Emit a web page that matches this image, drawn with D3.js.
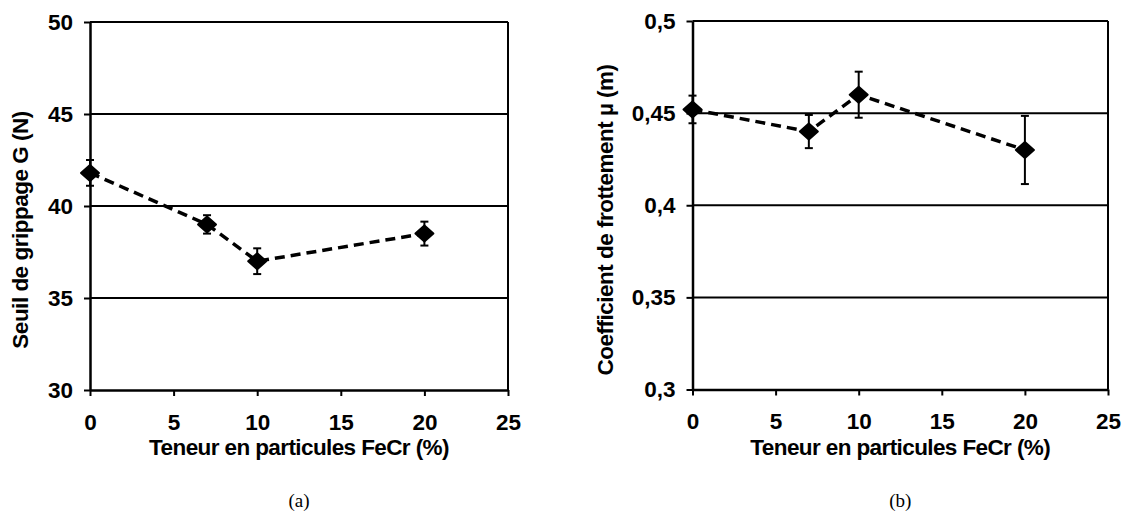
<!DOCTYPE html>
<html>
<head>
<meta charset="utf-8">
<script src="https://cdn.jsdelivr.net/npm/d3@7"></script>
<style>
  html, body { margin: 0; padding: 0; background: #fff; }
  svg { display: block; }
  text { font-family: "Liberation Sans", Arial, sans-serif; font-weight: bold; fill: #000; }
  .sub { font-family: "Liberation Serif", "DejaVu Serif", serif; font-weight: normal; }
</style>
</head>
<body>
<svg id="chart" width="1124" height="522"></svg>
<script>
// ---- data ----
const xValues = [0, 7, 10, 20];
const xTicks = [0, 5, 10, 15, 20, 25];

const seuilValues = [41.8, 39.0, 37.0, 38.5];
const seuilErrors = [0.7, 0.5, 0.7, 0.65];
const seuilTicks = [30, 35, 40, 45, 50];

const coeffValues = [0.452, 0.440, 0.460, 0.430];
const coeffErrors = [0.0075, 0.009, 0.0125, 0.0185];
const coeffTicks = [0.30, 0.35, 0.40, 0.45, 0.50];

const xTitle = "Teneur en particules FeCr (%)";
const seuilTitle = "Seuil de grippage G  (N)";
const coeffTitle = "Coefficient de frottement µ (m)";

const svg = d3.select("#chart");

function panel(opts) {
  const g = svg.append("g");
  const x = d3.scaleLinear().domain([0, 25]).range([opts.left, opts.right]);
  const y = d3.scaleLinear().domain(opts.yDomain).range([opts.bottom, opts.top]);

  // horizontal gridlines (incl. top)
  g.selectAll("line.grid").data(opts.yTicks.filter(d => d !== opts.yDomain[0]))
    .enter().append("line")
    .attr("x1", opts.left).attr("x2", opts.right)
    .attr("y1", d => y(d)).attr("y2", d => y(d))
    .attr("stroke", "#000").attr("stroke-width", 2);

  // right border
  g.append("line")
    .attr("x1", opts.right).attr("x2", opts.right)
    .attr("y1", opts.top).attr("y2", opts.bottom)
    .attr("stroke", "#000").attr("stroke-width", 2);

  // y axis
  const yAxis = d3.axisLeft(y).tickValues(opts.yTicks).tickFormat(opts.yFmt)
    .tickSizeInner(6).tickSizeOuter(0).tickPadding(11);
  const ya = g.append("g").attr("transform", `translate(${opts.left},0)`).call(yAxis);
  ya.select(".domain").attr("stroke", "#000").attr("stroke-width", 2.5);
  ya.selectAll(".tick line").attr("stroke", "#000").attr("stroke-width", 2);
  ya.selectAll(".tick text").attr("font-size", 22.5).attr("font-family", "Liberation Sans").attr("font-weight", "bold").attr("fill", "#000");

  // x axis
  const xAxis = d3.axisBottom(x).tickValues(xTicks).tickFormat(d3.format("d"))
    .tickSizeInner(6).tickSizeOuter(0).tickPadding(18);
  const xa = g.append("g").attr("transform", `translate(0,${opts.bottom})`).call(xAxis);
  xa.select(".domain").attr("stroke", "#000").attr("stroke-width", 2.5);
  xa.selectAll(".tick line").attr("stroke", "#000").attr("stroke-width", 2);
  xa.selectAll(".tick text").attr("font-size", 22.5).attr("font-family", "Liberation Sans").attr("font-weight", "bold").attr("fill", "#000");

  // dashed line
  const line = d3.line().x(d => x(d[0])).y(d => y(d[1]));
  g.append("path")
    .datum(xValues.map((v, i) => [v, opts.values[i]]))
    .attr("d", line)
    .attr("fill", "none").attr("stroke", "#000")
    .attr("stroke-width", 3.5).attr("stroke-dasharray", "10,6");

  // error bars
  const eb = g.selectAll("g.err").data(xValues.map((v, i) => ({x: v, y: opts.values[i], e: opts.errors[i]})))
    .enter().append("g");
  eb.append("line")
    .attr("x1", d => x(d.x)).attr("x2", d => x(d.x))
    .attr("y1", d => y(d.y - d.e)).attr("y2", d => y(d.y + d.e))
    .attr("stroke", "#000").attr("stroke-width", 2);
  [-1, 1].forEach(s => {
    eb.append("line")
      .attr("x1", d => x(d.x) - 4).attr("x2", d => x(d.x) + 4)
      .attr("y1", d => y(d.y + s * d.e)).attr("y2", d => y(d.y + s * d.e))
      .attr("stroke", "#000").attr("stroke-width", 2);
  });

  // diamond markers
  g.selectAll("path.mk").data(xValues.map((v, i) => [v, opts.values[i]]))
    .enter().append("path")
    .attr("transform", d => `translate(${x(d[0])},${y(d[1])})`)
    .attr("d", "M0,-8L9,0L0,8L-9,0Z")
    .attr("fill", "#000").attr("stroke", "#000").attr("stroke-width", 2).attr("stroke-linejoin", "round");

  // axis titles
  g.append("text")
    .attr("x", (opts.left + opts.right) / 2).attr("y", 455)
    .attr("text-anchor", "middle").attr("font-size", 22.5).attr("letter-spacing", -0.6)
    .text(xTitle);
  g.append("text")
    .attr("transform", `translate(${opts.yTitleX},${opts.yTitleY}) rotate(-90)`)
    .attr("text-anchor", "middle").attr("font-size", 22.5).attr("letter-spacing", -0.5)
    .text(opts.yTitle);

  // subfigure label
  g.append("text").attr("class", "sub")
    .attr("x", (opts.left + opts.right) / 2).attr("y", 507)
    .attr("text-anchor", "middle").attr("font-size", 19)
    .text(opts.label);
}

panel({
  left: 90, right: 508, top: 22, bottom: 390,
  yDomain: [30, 50], yTicks: seuilTicks, yFmt: d3.format("d"),
  values: seuilValues, errors: seuilErrors,
  yTitle: seuilTitle, yTitleX: 28, yTitleY: 230, label: "(a)"
});

const commaFmt = d => d3.format("")(+d.toFixed(2)).replace(".", ",");
panel({
  left: 692.5, right: 1108, top: 21, bottom: 389.5,
  yDomain: [0.30, 0.50], yTicks: coeffTicks, yFmt: commaFmt,
  values: coeffValues, errors: coeffErrors,
  yTitle: coeffTitle, yTitleX: 613, yTitleY: 220, label: "(b)"
});
</script>
</body>
</html>
